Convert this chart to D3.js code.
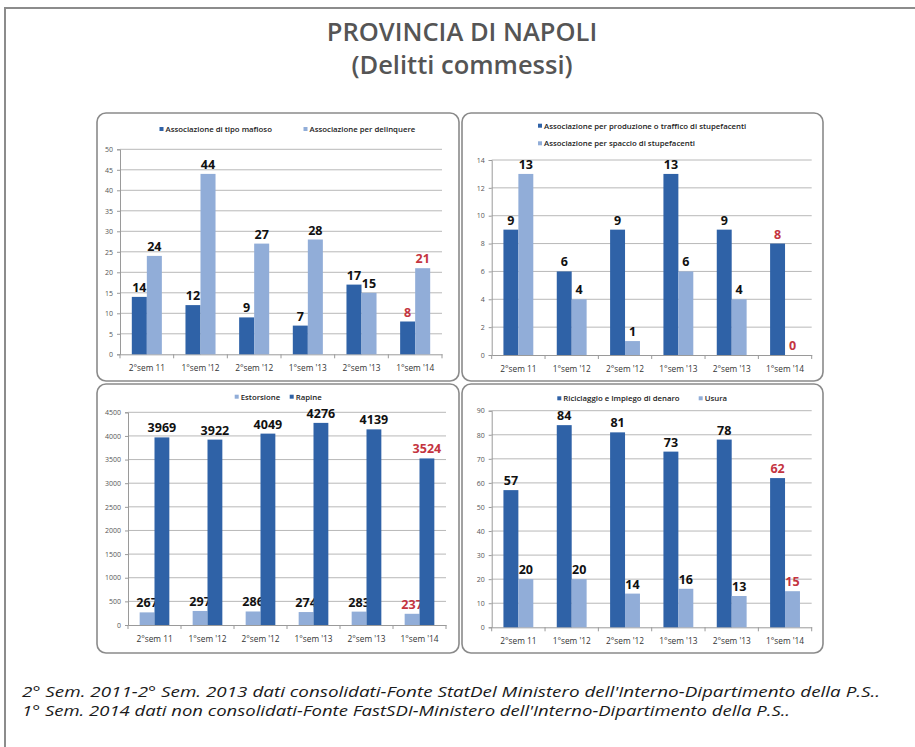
<!DOCTYPE html>
<html>
<head>
<meta charset="utf-8">
<script src="https://cdn.jsdelivr.net/npm/d3@7"></script>
<style>
  body { margin: 0; background: #fff; }
  svg { display: block; }
</style>
</head>
<body>
<svg id="chart" width="915" height="747"></svg>
<script>
// Semesters on the x axis
const categories = ["2°sem 11", "1°sem '12", "2°sem '12", "1°sem '13", "2°sem '13", "1°sem '14"];

// Series values per semester
const mafioso     = [14, 12, 9, 7, 17, 8];
const delinquere  = [24, 44, 27, 28, 15, 21];
const produzione  = [9, 6, 9, 13, 9, 8];
const spaccio     = [13, 4, 1, 6, 4, 0];
const estorsione  = [267, 297, 286, 274, 283, 237];
const rapine      = [3969, 3922, 4049, 4276, 4139, 3524];
const riciclaggio = [57, 84, 81, 73, 78, 62];
const usura       = [20, 20, 14, 16, 13, 15];

// Y axis tick values for each panel
const ticks1 = [0, 5, 10, 15, 20, 25, 30, 35, 40, 45, 50];
const ticks2 = [0, 2, 4, 6, 8, 10, 12, 14];
const ticks3 = [0, 500, 1000, 1500, 2000, 2500, 3000, 3500, 4000, 4500];
const ticks4 = [0, 10, 20, 30, 40, 50, 60, 70, 80, 90];

const titleLines = ["PROVINCIA DI NAPOLI", "(Delitti commessi)"];
const notes = [
  "2° Sem. 2011-2° Sem. 2013 dati consolidati-Fonte StatDel Ministero dell'Interno-Dipartimento della P.S..",
  "1° Sem. 2014 dati non consolidati-Fonte FastSDI-Ministero dell'Interno-Dipartimento della P.S.."
];
const noteWidths = [858, 768];

const DARK = "#2f62a7", LIGHT = "#91add8", RED = "#c4343f";
const FONT = "'Open Sans', 'DejaVu Sans', sans-serif";

const panels = [
  { box: [97, 113, 362, 268], plot: { l: 120, r: 442, t: 149.3, b: 354.3 }, ticks: ticks1,
    series: [
      { name: "Associazione di tipo mafioso", values: mafioso, color: DARK, lx: 161.5, ly: 129 },
      { name: "Associazione per delinquere", values: delinquere, color: LIGHT, lx: 305.5, ly: 129 }
    ] },
  { box: [462, 113, 361, 268], plot: { l: 491.7, r: 811.7, t: 160, b: 355 }, ticks: ticks2,
    series: [
      { name: "Associazione per produzione o traffico di stupefacenti", values: produzione, color: DARK, lx: 540, ly: 125.7 },
      { name: "Associazione per spaccio di stupefacenti", values: spaccio, color: LIGHT, lx: 540, ly: 143.3 }
    ] },
  { box: [97, 384, 362, 269], plot: { l: 128, r: 446, t: 412.3, b: 625 }, ticks: ticks3,
    series: [
      { name: "Estorsione", values: estorsione, color: LIGHT, lx: 236.7, ly: 396.7 },
      { name: "Rapine", values: rapine, color: DARK, lx: 291.7, ly: 396.7 }
    ] },
  { box: [462, 384, 361, 269], plot: { l: 491.7, r: 811.7, t: 410.7, b: 627.3 }, ticks: ticks4,
    series: [
      { name: "Riciclaggio e Impiego di denaro", values: riciclaggio, color: DARK, lx: 559.3, ly: 398.3 },
      { name: "Usura", values: usura, color: LIGHT, lx: 700.7, ly: 398.3 }
    ] }
];

const svg = d3.select("#chart");

// outer page frame
svg.append("rect")
  .attr("x", 5).attr("y", 8).attr("width", 930).attr("height", 760)
  .attr("fill", "none").attr("stroke", "#8c8c8c").attr("stroke-width", 2);

// title
svg.selectAll("text.title").data(titleLines).join("text")
  .attr("class", "title")
  .attr("x", 462).attr("y", (d, i) => 41 + i * 33)
  .attr("text-anchor", "middle")
  .attr("font-family", FONT).attr("font-weight", 600).attr("font-size", 25.5)
  .attr("fill", "#555")
  .text(d => d);

panels.forEach(p => {
  const g = svg.append("g");
  const [bx, by, bw, bh] = p.box;
  g.append("rect")
    .attr("x", bx).attr("y", by).attr("width", bw).attr("height", bh)
    .attr("rx", 9).attr("fill", "#fff")
    .attr("stroke", "#8a8a8a").attr("stroke-width", 1.6);

  const { l, r, t, b } = p.plot;
  const maxV = d3.max(p.ticks);
  const y = d3.scaleLinear().domain([0, maxV]).range([b, t]);
  const x0 = d3.scaleBand().domain(categories).range([l, r])
    .paddingInner(0.44).paddingOuter(0.22);
  const x1 = d3.scaleBand().domain(d3.range(p.series.length)).range([0, x0.bandwidth()]);

  // horizontal gridlines
  g.selectAll("line.grid").data(p.ticks.filter(v => v > 0)).join("line")
    .attr("x1", l).attr("x2", r)
    .attr("y1", d => y(d)).attr("y2", d => y(d))
    .attr("stroke", "#b8b8b8").attr("stroke-width", 1);

  // y axis
  const yAxis = d3.axisLeft(y).tickValues(p.ticks).tickFormat(d3.format("d"))
    .tickSize(3).tickPadding(4);
  const ya = g.append("g").attr("transform", `translate(${l},0)`).call(yAxis);
  ya.select(".domain").attr("stroke", "#9a9a9a");
  ya.selectAll(".tick line").attr("stroke", "#9a9a9a");
  ya.selectAll(".tick text")
    .attr("font-family", FONT).attr("font-size", 7).attr("fill", "#555");

  // x axis
  const xAxis = d3.axisBottom(x0).tickSize(0).tickPadding(0);
  const xa = g.append("g").attr("transform", `translate(0,${b})`).call(xAxis);
  xa.select(".domain").attr("stroke", "#9a9a9a");
  xa.selectAll(".tick text")
    .attr("y", 17).attr("dy", 0)
    .attr("font-family", FONT).attr("font-size", 8.3).attr("fill", "#333");
  // category separator ticks
  const step = x0.step();
  g.selectAll("line.sep").data(d3.range(categories.length + 1)).join("line")
    .attr("x1", i => l + i * step).attr("x2", i => l + i * step)
    .attr("y1", b).attr("y2", b + 4)
    .attr("stroke", "#9a9a9a");

  // bars and value labels
  p.series.forEach((s, si) => {
    g.selectAll(null).data(s.values).join("rect")
      .attr("x", (d, i) => x0(categories[i]) + x1(si))
      .attr("y", d => y(d))
      .attr("width", x1.bandwidth())
      .attr("height", d => b - y(d))
      .attr("fill", s.color);

    g.selectAll(null).data(s.values).join("text")
      .attr("x", (d, i) => x0(categories[i]) + x1(si) + x1.bandwidth() / 2)
      .attr("y", d => y(d) - 5)
      .attr("text-anchor", "middle")
      .attr("font-family", FONT).attr("font-weight", 700).attr("font-size", 12.5)
      .attr("fill", (d, i) => i === categories.length - 1 ? RED : "#111")
      .text(d => d);

    // legend entry
    g.append("rect")
      .attr("x", s.lx - 2).attr("y", s.ly - 2).attr("width", 4).attr("height", 4)
      .attr("fill", s.color);
    g.append("text")
      .attr("x", s.lx + 4).attr("y", s.ly + 3)
      .attr("font-family", FONT).attr("font-weight", 600).attr("font-size", 7.8)
      .attr("fill", "#222")
      .text(s.name);
  });
});

// source notes
svg.selectAll("text.note").data(notes).join("text")
  .attr("class", "note")
  .attr("x", 22).attr("y", (d, i) => 697 + i * 19)
  .attr("font-family", FONT).attr("font-style", "italic").attr("font-size", 14)
  .attr("textLength", (d, i) => noteWidths[i])
  .attr("lengthAdjust", "spacingAndGlyphs")
  .attr("fill", "#1a1a1a")
  .text(d => d);
</script>
</body>
</html>
